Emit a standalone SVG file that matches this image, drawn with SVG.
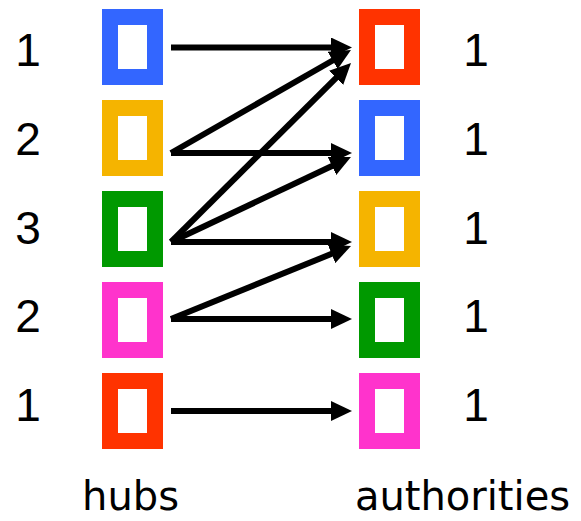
<svg xmlns="http://www.w3.org/2000/svg" width="581" height="521" viewBox="0 0 581 521">
<style>
.box{fill:#fff;stroke-width:16}
.num{font-family:"Liberation Sans",Arial,sans-serif;font-size:46px;fill:#000;text-anchor:middle}
.lbl{font-family:"DejaVu Sans",Verdana,sans-serif;font-size:40px;fill:#000;text-anchor:middle}
.edge{stroke:#000;stroke-width:6;fill:none;marker-end:url(#ah)}
.blue{stroke:#3366FF}.yellow{stroke:#F5B400}.green{stroke:#009900}.pink{stroke:#FF33CC}.red{stroke:#FF3300}
</style>
<defs>
<marker id="ah" markerUnits="userSpaceOnUse" viewBox="0 0 21 20" markerWidth="21" markerHeight="20" refX="10" refY="10" orient="auto">
<path d="M0,0 L21,10 L0,20 Z" fill="#000"/>
</marker>
</defs>
<rect width="581" height="521" fill="#fff"/>
<g id="hub1"><rect class="box blue" x="110" y="17" width="45" height="60"/><text class="num" x="28" y="66">1</text></g>
<g id="hub2"><rect class="box yellow" x="110" y="108" width="45" height="60"/><text class="num" x="28" y="155">2</text></g>
<g id="hub3"><rect class="box green" x="110" y="199" width="45" height="60"/><text class="num" x="28" y="244">3</text></g>
<g id="hub4"><rect class="box pink" x="110" y="290" width="45" height="60"/><text class="num" x="28" y="332">2</text></g>
<g id="hub5"><rect class="box red" x="110" y="381" width="45" height="60"/><text class="num" x="28" y="421">1</text></g>
<g id="auth1"><rect class="box red" x="367" y="17" width="45" height="60"/><text class="num" x="476" y="66">1</text></g>
<g id="auth2"><rect class="box blue" x="367" y="108" width="45" height="60"/><text class="num" x="476" y="155">1</text></g>
<g id="auth3"><rect class="box yellow" x="367" y="199" width="45" height="60"/><text class="num" x="476" y="244">1</text></g>
<g id="auth4"><rect class="box green" x="367" y="290" width="45" height="60"/><text class="num" x="476" y="332">1</text></g>
<g id="auth5"><rect class="box pink" x="367" y="381" width="45" height="60"/><text class="num" x="476" y="421">1</text></g>
<g id="connectors">
<line class="edge" x1="171" y1="47.5" x2="341" y2="47.5"/>
<line class="edge" x1="171" y1="153" x2="341.4" y2="55.5"/>
<line class="edge" x1="171" y1="153" x2="341" y2="153"/>
<line class="edge" x1="171" y1="242" x2="343.2" y2="70.8"/>
<line class="edge" x1="171" y1="242" x2="341" y2="161.7"/>
<line class="edge" x1="171" y1="242" x2="341" y2="242"/>
<line class="edge" x1="171" y1="319" x2="340.8" y2="250.1"/>
<line class="edge" x1="171" y1="319" x2="341" y2="319"/>
<line class="edge" x1="171" y1="411" x2="341" y2="411"/>
</g>
<g id="labels">
<text class="lbl" x="130.5" y="510">hubs</text>
<text class="lbl" x="462.5" y="510">authorities</text>
</g>
</svg>
